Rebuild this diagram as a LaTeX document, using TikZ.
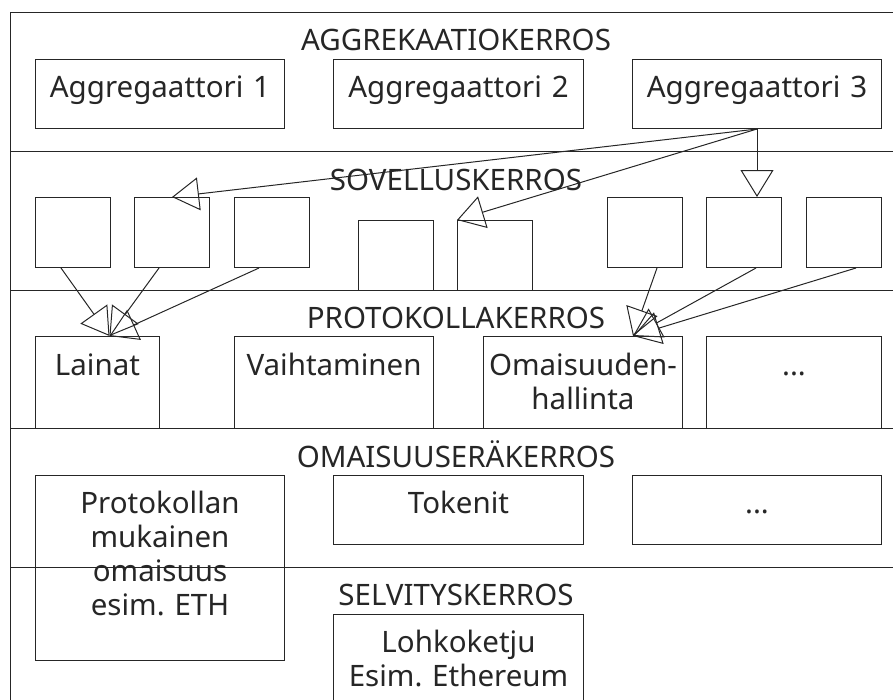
\documentclass[tikz,border=0pt]{standalone}
\usepackage{fontspec}
\setmainfont{Noto Sans}
\frenchspacing
\usetikzlibrary{arrows.meta,positioning}

\tikzset{
  layer/.style={anchor=base, font=\fontsize{29.5}{34}\selectfont},
  box/.style={draw, anchor=north west, inner sep=0pt, align=center,
    text width=#1, font=\fontsize{29.5}{34}\selectfont},
  app/.style={draw, anchor=north west, inner sep=0pt,
    minimum width=75pt, minimum height=70pt},
  tri/.style={-{Triangle[open,length=27pt,width=33pt]}}
}

\begin{document}
\begin{tikzpicture}
      [ x=1pt, y=-1pt, line width=1pt, color=black!85 ]
      \useasboundingbox (0,0) rectangle (893,699);
      \clip (0,0) rectangle (893,699);

      \draw (10,720) -- (10,12) -- (900,12);
      \foreach \y in {151,290,428,567}
        \draw (10,\y) -- (900,\y);

      \node[layer] (aggl)  at (456,50)  {AGGREKAATIOKERROS};
      \node[layer] (sovl)  at (456,190) {SOVELLUSKERROS};
      \node[layer] (protl) at (456,328) {PROTOKOLLAKERROS};
      \node[layer] (omal)  at (456,467) {OMAISUUSERÄKERROS};
      \node[layer] (selvl) at (456,605) {SELVITYSKERROS};

      \node[box=249pt, text height=38pt, text depth=31pt] (agg1) at (35,59)  {Aggregaattori 1};
      \node[box=250pt, text height=38pt, text depth=31pt] (agg2) at (333,59) {Aggregaattori 2};
      \node[box=249pt, text height=38pt, text depth=31pt] (agg3) at (632,59) {Aggregaattori 3};

      \node[app] (app1) at (35,197)  {};
      \node[app] (app2) at (134,197) {};
      \node[app] (app3) at (234,197) {};
      \node[app] (app4) at (358,220) {};
      \node[app] (app5) at (457,220) {};
      \node[app] (app6) at (607,197) {};
      \node[app] (app7) at (706,197) {};
      \node[app] (app8) at (806,197) {};

      \node[box=124pt, text height=39pt, text depth=53pt] (lainat) at (35,336)  {Lainat};
      \node[box=199pt, text height=39pt, text depth=53pt] (vaiht)  at (234,336) {Vaihtaminen};
      \node[box=199pt, text height=39pt, text depth=53pt] (omhal)  at (483,336) {Omaisuuden-\\hallinta};
      \node[box=175pt, text height=39pt, text depth=53pt] (prmuut) at (706,336) {...};

      \node[box=249pt, text height=38pt, text depth=147pt] (natiivi) at (35,475)  {Protokollan\\mukainen\\omaisuus\\esim. ETH};
      \node[box=250pt, text height=38pt, text depth=31pt]  (token)   at (333,475) {Tokenit};
      \node[box=249pt, text height=38pt, text depth=31pt]  (ommuut)  at (632,475) {...};

      \node[box=250pt, text height=38pt, text depth=72pt] (lohko) at (333,614) {Lohkoketju\\Esim. Ethereum};

      \coordinate (lainatin) at ([xshift=12pt]lainat.north);
      \coordinate (omhalin)  at ([xshift=50pt]omhal.north);

      \path[tri] (agg3.south) edge (app2.north)
                              edge (app5.north west)
                              edge (agg3.south |- app7.north)
                 ([xshift=-12pt]app1.south) edge (lainatin)
                 ([xshift=-13pt]app2.south) edge (lainatin)
                 ([xshift=-13pt]app3.south) edge (lainatin)
                 ([xshift=12pt]app6.south)  edge (omhalin)
                 ([xshift=12pt]app7.south)  edge (omhalin)
                 ([xshift=12pt]app8.south)  edge (omhalin);
\end{tikzpicture}
\end{document}
